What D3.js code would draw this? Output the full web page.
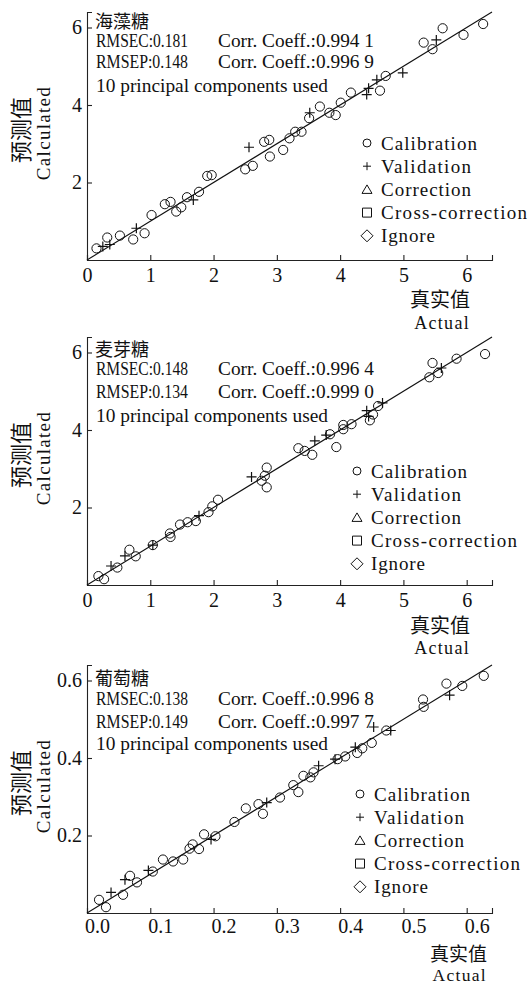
<!DOCTYPE html>
<html>
<head>
<meta charset="utf-8">
<script src="https://cdn.jsdelivr.net/npm/d3@7.9.0/dist/d3.min.js"></script>
<style>
  body { margin: 0; background: #fff; }
  svg { display: block; }
  text { font-family: "Liberation Serif", "Times New Roman", serif; fill: #111; }
  text.cjk { font-family: "Noto Sans CJK SC", sans-serif; font-weight: 400; }
</style>
</head>
<body>
<svg id="chart" width="530" height="984"></svg>
<script>
// ---- data ----
const sugarNames = ["海藻糖", "麦芽糖", "葡萄糖"];
const rmsecValues = ["0.181", "0.148", "0.138"];
const corrCalValues = ["0.994 1", "0.996 4", "0.996 8"];
const rmsepValues = ["0.148", "0.134", "0.149"];
const corrValValues = ["0.996 9", "0.999 0", "0.997 7"];
const componentsNote = "10 principal components used";
const legendLabels = ["Calibration", "Validation", "Correction", "Cross-correction", "Ignore"];

const xTicksBig = [0, 1, 2, 3, 4, 5, 6];
const yTicksBig = [2, 4, 6];
const xTicksSmall = [0, 0.1, 0.2, 0.3, 0.4, 0.5, 0.6];
const yTicksSmall = [0.2, 0.4, 0.6];
const domainBig = [0, 6.4];
const domainSmall = [0, 0.64];

// [actual, calculated]
const trehaloseCal = [[0.15,0.30],[0.32,0.58],[0.52,0.63],[0.73,0.53],[0.91,0.69],[1.02,1.16],[1.23,1.44],
  [1.32,1.50],[1.41,1.25],[1.49,1.36],[1.58,1.62],[1.77,1.76],[1.90,2.17],[1.97,2.19],[2.50,2.34],[2.62,2.43],
  [2.80,3.05],[2.88,3.10],[2.89,2.67],[3.10,2.84],[3.20,3.14],[3.29,3.31],[3.39,3.31],[3.51,3.66],[3.68,3.96],
  [3.83,3.80],[3.93,3.74],[4.01,4.06],[4.17,4.32],[4.63,4.37],[4.72,4.75],[5.32,5.61],[5.46,5.44],[5.62,5.98],
  [5.95,5.81],[6.26,6.09]];
const trehaloseVal = [[0.25,0.35],[0.36,0.40],[0.78,0.82],[1.68,1.55],[2.56,2.91],[3.52,3.80],[4.42,4.27],
  [4.45,4.43],[4.58,4.65],[4.99,4.83],[5.52,5.68]];

const maltoseCal = [[0.18,0.23],[0.27,0.15],[0.48,0.45],[0.67,0.91],[0.77,0.74],[1.04,1.03],[1.31,1.33],
  [1.32,1.24],[1.47,1.56],[1.59,1.62],[1.72,1.65],[1.92,1.88],[1.98,2.03],[2.07,2.20],[2.76,2.69],[2.81,2.82],
  [2.84,3.03],[2.84,2.52],[3.34,3.53],[3.44,3.46],[3.56,3.36],[3.94,3.56],[3.84,3.89],[4.05,4.02],[4.05,4.13],
  [4.18,4.15],[4.47,4.25],[4.52,4.40],[4.60,4.62],[5.41,5.36],[5.46,5.73],[5.55,5.47],[5.84,5.84],[6.29,5.96]];
const maltoseVal = [[0.38,0.49],[0.60,0.75],[1.04,1.03],[1.77,1.79],[2.60,2.79],[3.60,3.72],[3.78,3.87],
  [4.42,4.50],[4.45,4.35],[4.67,4.70],[5.60,5.60]];

const glucoseCal = [[0.019,0.034],[0.030,0.015],[0.057,0.047],[0.068,0.096],[0.079,0.079],[0.104,0.107],
  [0.120,0.138],[0.136,0.133],[0.152,0.138],[0.162,0.166],[0.167,0.177],[0.177,0.165],[0.185,0.203],
  [0.203,0.198],[0.233,0.235],[0.251,0.270],[0.271,0.281],[0.278,0.256],[0.305,0.298],[0.326,0.330],
  [0.334,0.312],[0.342,0.354],[0.353,0.350],[0.358,0.363],[0.396,0.397],[0.408,0.404],[0.427,0.413],
  [0.435,0.425],[0.450,0.439],[0.473,0.471],[0.531,0.551],[0.532,0.532],[0.568,0.592],[0.593,0.586],
  [0.627,0.612]];
const glucoseVal = [[0.038,0.053],[0.060,0.086],[0.097,0.110],[0.196,0.190],[0.284,0.285],[0.366,0.380],
  [0.392,0.397],[0.424,0.428],[0.453,0.480],[0.480,0.471],[0.573,0.562]];

// ---- layout ----
const panels = [
  { name: sugarNames[0], cal: trehaloseCal, val: trehaloseVal, rmsec: rmsecValues[0], cc: corrCalValues[0],
    rmsep: rmsepValues[0], cp: corrValValues[0], domain: domainBig, xt: xTicksBig, yt: yTicksBig, fmt: d3.format("d"),
    top: 12, bottom: 260, textY: [20, 47, 68, 92], legX: 367, legY: 143, xlabX: 470, xlabY: [298, 329],
    tickDx: 0, tickPad: 8, xlabSize: [20, 18] },
  { name: sugarNames[1], cal: maltoseCal, val: maltoseVal, rmsec: rmsecValues[1], cc: corrCalValues[1],
    rmsep: rmsepValues[1], cp: corrValValues[1], domain: domainBig, xt: xTicksBig, yt: yTicksBig, fmt: d3.format("d"),
    top: 337, bottom: 585, textY: [348, 375, 398, 422], legX: 357, legY: 471, xlabX: 470, xlabY: [624, 654],
    tickDx: 0, tickPad: 8, xlabSize: [20, 18] },
  { name: sugarNames[2], cal: glucoseCal, val: glucoseVal, rmsec: rmsecValues[2], cc: corrCalValues[2],
    rmsep: rmsepValues[2], cp: corrValValues[2], domain: domainSmall, xt: xTicksSmall, yt: yTicksSmall, fmt: d3.format(".1f"),
    top: 665, bottom: 913, textY: [677, 705, 728, 750], legX: 360, legY: 794, xlabX: 487, xlabY: [952, 981],
    tickDx: 10, tickPad: 6, xlabSize: [19, 17.5] }
];
const left = 87, right = 492;

const svg = d3.select("#chart");

panels.forEach(p => {
  const g = svg.append("g");
  const x = d3.scaleLinear().domain(p.domain).range([left, right]);
  const y = d3.scaleLinear().domain(p.domain).range([p.bottom, p.top]);

  // axes with inward ticks
  const xAxis = g.append("g").attr("transform", `translate(0,${p.bottom})`)
    .call(d3.axisBottom(x).tickValues(p.xt).tickFormat(p.fmt).tickSize(-5).tickPadding(p.tickPad));
  const yAxis = g.append("g").attr("transform", `translate(${left},0)`)
    .call(d3.axisLeft(y).tickValues(p.yt).tickFormat(p.fmt).tickSize(-5).tickPadding(5));
  [xAxis, yAxis].forEach(a => {
    a.attr("font-family", null);
    a.selectAll("path, line").attr("stroke", "#222").attr("stroke-width", 1.1);
    a.selectAll("text").attr("font-size", 20).attr("fill", "#111");
  });
  xAxis.selectAll("text").attr("dx", p.tickDx);

  // 1:1 line
  g.append("line")
    .attr("x1", x(p.domain[0])).attr("y1", y(p.domain[0]))
    .attr("x2", x(p.domain[1])).attr("y2", y(p.domain[1]))
    .attr("stroke", "#111").attr("stroke-width", 1.1);

  // calibration circles
  g.selectAll("circle.cal").data(p.cal).enter().append("circle")
    .attr("class", "cal")
    .attr("cx", d => x(d[0])).attr("cy", d => y(d[1])).attr("r", 4.6)
    .attr("fill", "none").attr("stroke", "#111").attr("stroke-width", 1);

  // validation crosses
  g.selectAll("path.val").data(p.val).enter().append("path")
    .attr("class", "val")
    .attr("transform", d => `translate(${x(d[0])},${y(d[1])})`)
    .attr("d", "M-5,0H5M0,-5V5")
    .attr("stroke", "#111").attr("stroke-width", 1.2);

  // annotation text
  g.append("text").attr("class", "cjk").attr("x", 95).attr("y", p.textY[0]).attr("dominant-baseline", "central")
    .attr("font-size", 18).text(p.name);
  const lines = [["RMSEC:" + p.rmsec, "Corr. Coeff.:" + p.cc], ["RMSEP:" + p.rmsep, "Corr. Coeff.:" + p.cp]];
  lines.forEach((l, i) => {
    g.append("text").attr("x", 96).attr("y", p.textY[i + 1]).attr("font-size", 18)
      .attr("textLength", 92).attr("lengthAdjust", "spacingAndGlyphs").text(l[0]);
    g.append("text").attr("x", 218).attr("y", p.textY[i + 1]).attr("font-size", 18)
      .attr("textLength", 156).attr("lengthAdjust", "spacingAndGlyphs").text(l[1]);
  });
  g.append("text").attr("x", 96).attr("y", p.textY[3]).attr("font-size", 18)
    .attr("textLength", 232).attr("lengthAdjust", "spacingAndGlyphs").text(componentsNote);

  // legend
  const legendWidths = [96, 90, 90, 146, 54];
  const leg = g.append("g").attr("transform", `translate(${p.legX},${p.legY})`);
  legendLabels.forEach((lab, i) => {
    const row = leg.append("g").attr("transform", `translate(0,${i * 23.2})`);
    const sym = row.append("path").attr("fill", "none").attr("stroke", "#111").attr("stroke-width", 1);
    if (i === 0) sym.attr("d", d3.symbol(d3.symbolCircle, 50)());
    if (i === 1) sym.attr("d", "M-4,0H4M0,-4V4");
    if (i === 2) sym.attr("d", "M0,-4.5L5,4L-5,4Z");
    if (i === 3) sym.attr("d", "M-4.5,-4.5H4.5V4.5H-4.5Z");
    if (i === 4) sym.attr("d", "M0,-6L6,0L0,6L-6,0Z");
    row.append("text").attr("x", 14).attr("y", 0).attr("dy", "0.35em").attr("font-size", 19)
      .attr("textLength", legendWidths[i]).attr("lengthAdjust", "spacing").text(lab);
  });

  // axis titles
  g.append("text").attr("class", "cjk").attr("x", p.xlabX).attr("y", p.xlabY[0]).attr("text-anchor", "end")
    .attr("dominant-baseline", "central").attr("font-size", p.xlabSize[0]).text("真实值");
  g.append("text").attr("x", p.xlabX).attr("y", p.xlabY[1]).attr("text-anchor", "end")
    .attr("font-size", p.xlabSize[1]).attr("letter-spacing", 1.3).text("Actual");

  const cy = p.bottom - 130;
  g.append("text").attr("class", "cjk").attr("transform", `translate(19,${cy}) rotate(-90)`).attr("text-anchor", "middle")
    .attr("dominant-baseline", "central").attr("font-size", 22).text("预测值");
  g.append("text").attr("transform", `translate(50,${cy + 3}) rotate(-90)`).attr("text-anchor", "middle")
    .attr("font-size", 19).attr("letter-spacing", 1.3).text("Calculated");
});
</script>
</body>
</html>
